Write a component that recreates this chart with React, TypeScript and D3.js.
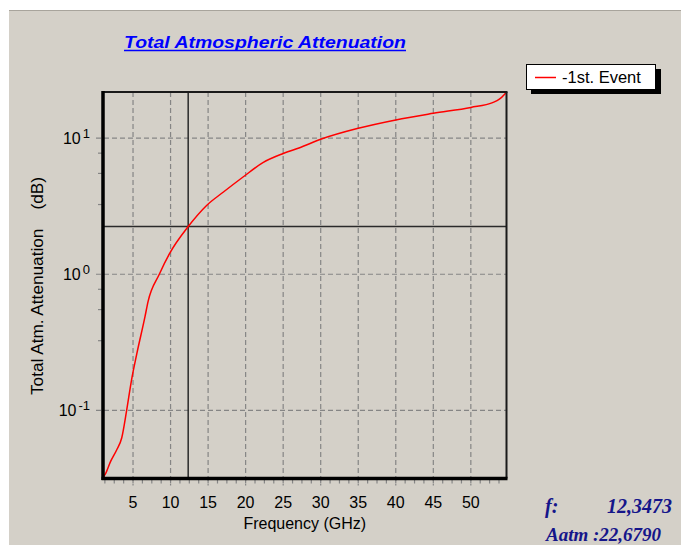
import React from 'react';
import * as d3 from 'd3';

// curve (frequency in GHz, attenuation in dB)
const freqGHz = [1.0, 1.3, 2.0, 2.8, 3.5, 4.15, 4.8, 5.5, 6.6, 7.0, 8.5, 9.9, 12.35, 14.8, 17.0, 19.7, 22.3, 25.0, 27.2, 30.0, 35.0, 40.0, 45.0, 50.0, 52.9, 53.8, 54.5, 54.75];
const attenuationDb = [0.032, 0.034, 0.042, 0.051, 0.063, 0.1, 0.167, 0.26, 0.49, 0.63, 1.0, 1.43, 2.24, 3.2, 4.0, 5.2, 6.6, 7.7, 8.5, 9.8, 11.8, 13.6, 15.2, 16.8, 18.2, 19.3, 21.0, 21.8];

const xTickValues = [5, 10, 15, 20, 25, 30, 35, 40, 45, 50];
const yDecades = [0.1, 1, 10];
const yDecadeExponents = ['-1', '0', '1'];
const yMinorTicks = [0.325, 0.55, 0.775, 3.25, 5.5, 7.75];

const cursorFreq = 12.3473;
const cursorAtt = 2.24;

const titleText = 'Total Atmospheric Attenuation';
const seriesName = '-1st. Event';
const xTitle = 'Frequency (GHz)';
const yTitle = 'Total Atm. Attenuation    (dB)';
const readoutF = '12,3473';
const readoutA = 'Aatm :22,6790';

const W = 683;
const H = 545;
const sans = '"Liberation Sans", Arial, sans-serif';
const serif = '"Liberation Serif", "Times New Roman", serif';

export default function App() {
  const left = 103;
  const right = 506.5;
  const top = 92;
  const bottom = 478.5;

  const x = d3.scaleLinear().domain([1, 54.75]).range([left, right]);
  const y = d3.scaleLog().domain([0.0316, 21.8]).range([bottom, top]);

  const points = freqGHz.map((f, i) => [f, attenuationDb[i]] as [number, number]);
  const line = d3
    .line<[number, number]>()
    .x((d) => x(d[0]))
    .y((d) => y(d[1]))
    .curve(d3.curveMonotoneX);

  const xMinor = d3.range(1.25, 54.7, 1.25);
  const grid = '#858585';

  return (
    <svg width={W} height={H} style={{ position: 'absolute', left: 0, top: 0, display: 'block' }}>
      <rect x={0} y={0} width={W} height={H} fill="#ffffff" />
      <rect x={9} y={10} width={672} height={H - 10} fill="#d4d0c8" />
      <line x1={9} x2={681} y1={10.5} y2={10.5} stroke="#a8a49c" />

      {/* title */}
      <text
        x={124}
        y={47.5}
        fontFamily={sans}
        fontSize={17}
        fontWeight="bold"
        fontStyle="italic"
        fill="#0000ff"
        textLength={282}
        lengthAdjust="spacingAndGlyphs"
      >
        {titleText}
      </text>
      <line x1={124} x2={406} y1={50.5} y2={50.5} stroke="#0000ff" strokeWidth={1.3} />

      {/* grid */}
      {xTickValues.map((v) => (
        <line key={'gx' + v} x1={x(v)} x2={x(v)} y1={top} y2={bottom + 7} stroke={grid} strokeWidth={1.2} strokeDasharray="5,3" />
      ))}
      {yDecades.map((v) => (
        <line key={'gy' + v} x1={left - 7} x2={right} y1={y(v)} y2={y(v)} stroke={grid} strokeWidth={1.2} strokeDasharray="5,3" />
      ))}

      {/* minor ticks */}
      {xMinor.map((v) => (
        <line key={'mx' + v} x1={x(v)} x2={x(v)} y1={bottom} y2={bottom + 5} stroke={grid} strokeWidth={1.2} />
      ))}
      {yMinorTicks.map((v) => (
        <line key={'my' + v} x1={left - 5} x2={left} y1={y(v)} y2={y(v)} stroke={grid} strokeWidth={1.2} />
      ))}

      {/* cursor */}
      <line x1={x(cursorFreq)} x2={x(cursorFreq)} y1={top} y2={bottom} stroke="#2a2a2a" strokeWidth={1.5} />
      <line x1={left} x2={right} y1={y(cursorAtt)} y2={y(cursorAtt)} stroke="#2a2a2a" strokeWidth={1.5} />

      {/* series */}
      <path d={line(points) || ''} fill="none" stroke="#ff0000" strokeWidth={1.5} />

      {/* frame */}
      <line x1={left} x2={right + 1} y1={top} y2={top} stroke="#1a1a1a" strokeWidth={2} />
      <line x1={right} x2={right} y1={top} y2={bottom} stroke="#1a1a1a" strokeWidth={2} />
      <line x1={left} x2={left} y1={top - 1} y2={bottom + 1.5} stroke="#000" strokeWidth={3.5} />
      <line x1={left - 1.5} x2={right + 1} y1={bottom} y2={bottom} stroke="#000" strokeWidth={3.5} />

      {/* x tick labels */}
      {xTickValues.map((v) => (
        <text key={'tx' + v} x={x(v)} y={508} textAnchor="middle" fontFamily={sans} fontSize={16} fill="#000">
          {v}
        </text>
      ))}
      <text x={(left + right) / 2} y={529} textAnchor="middle" fontFamily={sans} fontSize={16} fill="#000">
        {xTitle}
      </text>

      {/* y tick labels */}
      {yDecades.map((v, i) => (
        <text key={'ty' + v} x={90} y={y(v) + 6} textAnchor="end" fontFamily={sans} fontSize={16} fill="#000">
          10
          <tspan fontSize={13} dy={-6} dx={2}>
            {yDecadeExponents[i]}
          </tspan>
        </text>
      ))}
      <text
        transform="translate(43,286) rotate(-90)"
        textAnchor="middle"
        fontFamily={sans}
        fontSize={16}
        fill="#000"
        style={{ whiteSpace: 'pre' }}
        textLength={218}
        lengthAdjust="spacingAndGlyphs"
      >
        {yTitle}
      </text>

      {/* legend */}
      <rect x={531} y={69} width={130} height={25} fill="#000" />
      <rect x={526.5} y={64.5} width={129} height={25} fill="#fff" stroke="#000" strokeWidth={1} />
      <line x1={535} x2={556} y1={77.5} y2={77.5} stroke="#ff0000" strokeWidth={1.5} />
      <text x={562} y={83} fontFamily={sans} fontSize={16.5} fill="#000">
        {seriesName}
      </text>

      {/* readout */}
      <text x={545} y={513} fontFamily={serif} fontSize={20} fontWeight="bold" fontStyle="italic" fill="#15158a">
        f:
      </text>
      <text x={607} y={513} fontFamily={serif} fontSize={20} fontWeight="bold" fontStyle="italic" fill="#15158a">
        {readoutF}
      </text>
      <text x={546} y={541} fontFamily={serif} fontSize={19} fontWeight="bold" fontStyle="italic" fill="#15158a">
        {readoutA}
      </text>
    </svg>
  );
}
